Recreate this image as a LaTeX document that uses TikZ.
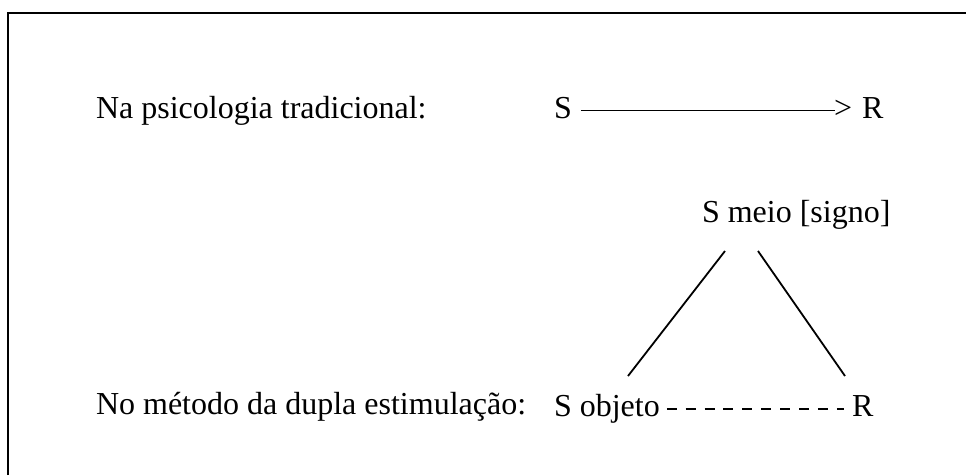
\documentclass[tikz,border=0pt]{standalone}
\usepackage{fontspec}
\setmainfont{Liberation Serif}
\usetikzlibrary{calc}
\begin{document}
\begin{tikzpicture}[x=1pt,y=-1pt,
  lbl/.style={anchor=base west,inner sep=0pt,outer sep=0pt,font=\fontsize{32}{38}\selectfont},
  conn/.style={line width=1.8pt,black},
  frameline/.style={line width=2pt,black}]
\useasboundingbox (0,0) rectangle (966,475);
% frame (only top and left edges visible)
\draw[frameline] (8,475) -- (8,12.5) -- (966,12.5);
% nodes
\node[lbl] (na) at (96,118) {Na psicologia tradicional:};
\node[lbl] (s1) at (554,118) {S};
\node[lbl] (gt) at (834,118) {>};
\node[lbl] (r1) at (862,118) {R};
\node[lbl] (smeio) at (702,222) {S meio [signo]};
\node[lbl] (no) at (96,414) {No método da dupla estimulação:};
\node[lbl] (sobj) at (554,416) {S objeto};
\node[lbl] (r2) at (852,416) {R};
% connectors
\draw[conn] ($(s1.base east)+(9,-7.5)$) -- ($(gt.base west)+(1,-7.5)$);
\coordinate (tl) at (725,251);
\coordinate (bl) at (628,376);
\coordinate (tr) at (758,251);
\coordinate (br) at (845,376);
\draw[conn] (tl) -- (bl);
\draw[conn] (tr) -- (br);
\draw[line width=2.2pt,dash pattern=on 10pt off 8.9pt]
  ($(sobj.base east)+(7,-7.2)$) -- ($(r2.base west)+(-8,-7.2)$);
\end{tikzpicture}
\end{document}
